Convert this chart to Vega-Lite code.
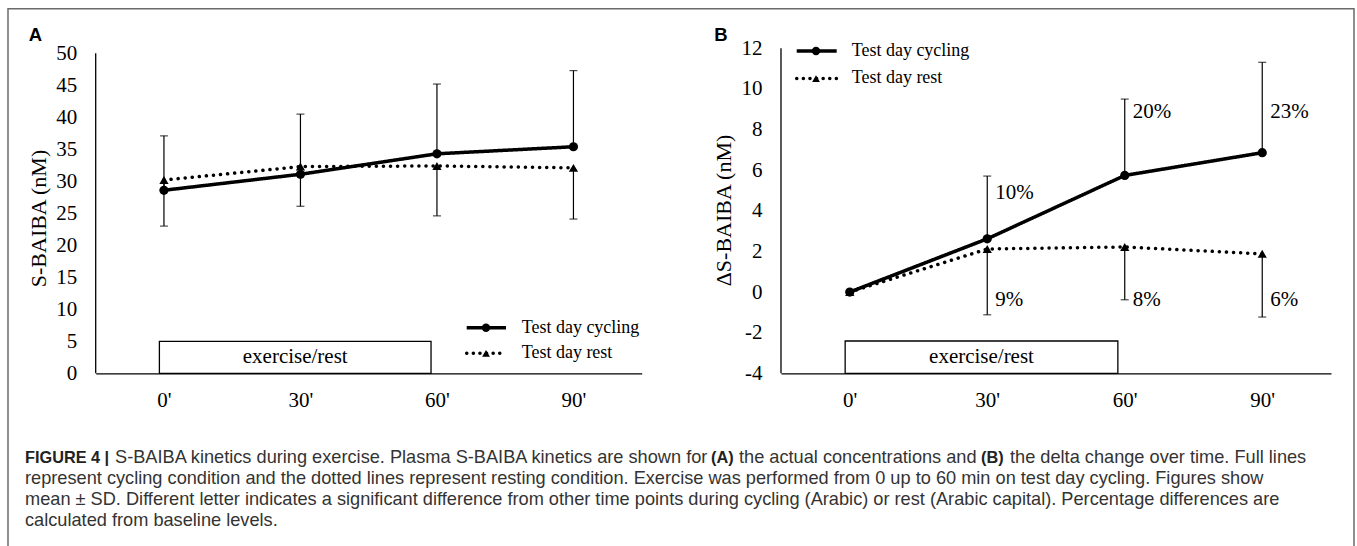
{
"$schema": "https://vega.github.io/schema/vega-lite/v6.json",
"background": "white",
"padding": {"left": 6.7, "top": 7, "right": 0, "bottom": 0},
"bounds": "flush",
"columns": 2,
"spacing": {"row": 66.7, "column": 139.3},
"datasets": {
  "A_main": [
    {"t":0,"series":"Test day cycling","mean":28.6,"sd_end":37.1},
    {"t":30,"series":"Test day cycling","mean":31.1,"sd_end":40.5},
    {"t":60,"series":"Test day cycling","mean":34.3,"sd_end":45.2},
    {"t":90,"series":"Test day cycling","mean":35.4,"sd_end":47.3},
    {"t":0,"series":"Test day rest","mean":30.2,"sd_end":23.0},
    {"t":30,"series":"Test day rest","mean":32.3,"sd_end":26.1},
    {"t":60,"series":"Test day rest","mean":32.4,"sd_end":24.6},
    {"t":90,"series":"Test day rest","mean":32.1,"sd_end":24.1}
  ],
  "B_main": [
    {"t":0,"series":"Test day cycling","mean":0,"sd_end":null},
    {"t":30,"series":"Test day cycling","mean":2.62,"sd_end":5.71},
    {"t":60,"series":"Test day cycling","mean":5.74,"sd_end":9.5},
    {"t":90,"series":"Test day cycling","mean":6.86,"sd_end":11.31},
    {"t":0,"series":"Test day rest","mean":0,"sd_end":null},
    {"t":30,"series":"Test day rest","mean":2.12,"sd_end":-1.12},
    {"t":60,"series":"Test day rest","mean":2.22,"sd_end":-0.38},
    {"t":90,"series":"Test day rest","mean":1.88,"sd_end":-1.23}
  ],
  "B_pct": [
    {"t":30,"pct":"10%","at":4.89},
    {"t":60,"pct":"20%","at":8.84},
    {"t":90,"pct":"23%","at":8.86},
    {"t":30,"pct":"9%","at":-0.37},
    {"t":60,"pct":"8%","at":-0.37},
    {"t":90,"pct":"6%","at":-0.37}
  ],
  "caption": [
    {"line":1,"part":"b1","text":"FIGURE 4 |"},
    {"line":1,"part":"n1","text":"S-BAIBA kinetics during exercise. Plasma S-BAIBA kinetics are shown for"},
    {"line":1,"part":"b2","text":"(A)"},
    {"line":1,"part":"n2","text":"the actual concentrations and"},
    {"line":1,"part":"b3","text":"(B)"},
    {"line":1,"part":"n3","text":"the delta change over time. Full lines"},
    {"line":2,"part":"r","text":"represent cycling condition and the dotted lines represent resting condition. Exercise was performed from 0 up to 60 min on test day cycling. Figures show"},
    {"line":3,"part":"r","text":"mean ± SD. Different letter indicates a significant difference from other time points during cycling (Arabic) or rest (Arabic capital). Percentage differences are"},
    {"line":4,"part":"r","text":"calculated from baseline levels."}
  ]
},
"concat": [
  {
    "width": 546, "height": 365.3,
    "layer": [
      {"data":{"values":[{"label":"exercise/rest"}]},"mark":{"type":"rect","fill":"white","stroke":"black","strokeWidth":1.3},"encoding":{"x":{"datum":-1,"type":"quantitative","scale":{"domain":[-15,105],"nice":false,"zero":false}},"x2":{"datum":58.7},"y":{"datum":0,"type":"quantitative","scale":{"domain":[0,57.08],"nice":false,"zero":false}},"y2":{"datum":5}}},
      {"data":{"values":[{"label":"exercise/rest"}]},"mark":{"type":"text","align":"center","baseline":"middle","font":"Liberation Serif","fontSize":21,"color":"black"},"encoding":{"x":{"datum":28.85,"type":"quantitative","scale":{"domain":[-15,105],"nice":false,"zero":false}},"y":{"datum":2.5,"type":"quantitative","scale":{"domain":[0,57.08],"nice":false,"zero":false}},"text":{"field":"label"}}},
      {"data":{"values":[{}]},"mark":{"type":"rule","color":"black","strokeWidth":1.3},"encoding":{"x":{"datum":-15,"type":"quantitative","scale":{"domain":[-15,105],"nice":false,"zero":false}},"y":{"datum":0,"type":"quantitative","scale":{"domain":[0,57.08],"nice":false,"zero":false}},"y2":{"datum":50}}},
      {"data":{"name":"A_main"},"mark":{"type":"rule","color":"black","strokeWidth":1.2},"encoding":{"x":{"field":"t","type":"quantitative","scale":{"domain":[-15,105],"nice":false,"zero":false}},"y":{"field":"mean","type":"quantitative","scale":{"domain":[0,57.08],"nice":false,"zero":false}},"y2":{"field":"sd_end"}}},
      {"data":{"name":"A_main"},"mark":{"type":"tick","orient":"horizontal","color":"black","size":8,"thickness":1.2},"encoding":{"x":{"field":"t","type":"quantitative","scale":{"domain":[-15,105],"nice":false,"zero":false}},"y":{"field":"sd_end","type":"quantitative","scale":{"domain":[0,57.08],"nice":false,"zero":false}}}},
      {"data":{"name":"A_main"},"mark":{"type":"line","color":"black","strokeWidth":3.5,"strokeCap":"round"},"encoding":{
        "x":{"field":"t","type":"quantitative","scale":{"domain":[-15,105],"nice":false,"zero":false},"axis":{"values":[0,30,60,90],"labelExpr":"datum.value + \"'\"","title":null,"domain":true,"labelPadding":16,"labelOverlap":false}},
        "y":{"field":"mean","type":"quantitative","scale":{"domain":[0,57.08],"nice":false,"zero":false},"axis":{"values":[0,5,10,15,20,25,30,35,40,45,50],"tickCount":11,"labelExpr":"'' + datum.value","domain":false,"labelPadding":19,"labelOverlap":false,"labelSeparation":-20,"title":"S-BAIBA (nM)","titleX":-57,"titleY":210,"titleBaseline":"middle"}},
        "strokeDash":{"field":"series","type":"nominal","scale":{"domain":["Test day cycling","Test day rest"],"range":[[1,0],[0.1,7]]},"legend":null}}},
      {"data":{"name":"A_main"},"mark":{"type":"point","filled":true,"color":"black","opacity":1,"size":85},"encoding":{"x":{"field":"t","type":"quantitative","scale":{"domain":[-15,105],"nice":false,"zero":false}},"y":{"field":"mean","type":"quantitative","scale":{"domain":[0,57.08],"nice":false,"zero":false}},"shape":{"field":"series","type":"nominal","scale":{"domain":["Test day cycling","Test day rest"],"range":["circle","triangle-up"]},"legend":null}}},
      {"data":{"values":[{}]},"mark":{"type":"rule","color":"black","strokeWidth":3.5},"encoding":{"x":{"datum":66.54,"type":"quantitative","scale":{"domain":[-15,105],"nice":false,"zero":false}},"x2":{"datum":75.18},"y":{"datum":7.125,"type":"quantitative","scale":{"domain":[0,57.08],"nice":false,"zero":false}}}},
      {"data":{"values":[{}]},"mark":{"type":"rule","color":"black","strokeWidth":3.5,"strokeDash":[0.1,6.5],"strokeCap":"round"},"encoding":{"x":{"datum":66.54,"type":"quantitative","scale":{"domain":[-15,105],"nice":false,"zero":false}},"x2":{"datum":75.18},"y":{"datum":3.125,"type":"quantitative","scale":{"domain":[0,57.08],"nice":false,"zero":false}}}},
      {"data":{"values":[{}]},"mark":{"type":"point","shape":"circle","filled":true,"color":"black","opacity":1,"size":70},"encoding":{"x":{"datum":70.78,"type":"quantitative","scale":{"domain":[-15,105],"nice":false,"zero":false}},"y":{"datum":7.125,"type":"quantitative","scale":{"domain":[0,57.08],"nice":false,"zero":false}}}},
      {"data":{"values":[{}]},"mark":{"type":"point","shape":"triangle-up","filled":true,"color":"black","opacity":1,"size":60},"encoding":{"x":{"datum":70.78,"type":"quantitative","scale":{"domain":[-15,105],"nice":false,"zero":false}},"y":{"datum":3.125,"type":"quantitative","scale":{"domain":[0,57.08],"nice":false,"zero":false}}}},
      {"data":{"values":[{"label":"Test day cycling"}]},"mark":{"type":"text","align":"left","baseline":"middle","font":"Liberation Serif","fontSize":18,"color":"black"},"encoding":{"x":{"datum":78.63,"type":"quantitative","scale":{"domain":[-15,105],"nice":false,"zero":false}},"y":{"datum":7.125,"type":"quantitative","scale":{"domain":[0,57.08],"nice":false,"zero":false}},"text":{"field":"label"}}},
      {"data":{"values":[{"label":"Test day rest"}]},"mark":{"type":"text","align":"left","baseline":"middle","font":"Liberation Serif","fontSize":18,"color":"black"},"encoding":{"x":{"datum":78.63,"type":"quantitative","scale":{"domain":[-15,105],"nice":false,"zero":false}},"y":{"datum":3.125,"type":"quantitative","scale":{"domain":[0,57.08],"nice":false,"zero":false}},"text":{"field":"label"}}},
      {"data":{"values":[{"label":"A"}]},"mark":{"type":"text","align":"center","baseline":"middle","font":"Liberation Sans","fontWeight":"bold","fontSize":18.5,"color":"black"},"encoding":{"x":{"datum":-28.23,"type":"quantitative","scale":{"domain":[-15,105],"nice":false,"zero":false}},"y":{"datum":52.86,"type":"quantitative","scale":{"domain":[0,57.08],"nice":false,"zero":false}},"text":{"field":"label"}}}
    ]
  },
  {
    "width": 550, "height": 365.3,
    "layer": [
      {"data":{"values":[{"label":"exercise/rest"}]},"mark":{"type":"rect","fill":"white","stroke":"black","strokeWidth":1.3},"encoding":{"x":{"datum":-1,"type":"quantitative","scale":{"domain":[-15,105],"nice":false,"zero":false}},"x2":{"datum":58.5},"y":{"datum":-4,"type":"quantitative","scale":{"domain":[-4,13.984],"nice":false,"zero":false}},"y2":{"datum":-2.41}}},
      {"data":{"values":[{"label":"exercise/rest"}]},"mark":{"type":"text","align":"center","baseline":"middle","font":"Liberation Serif","fontSize":21,"color":"black"},"encoding":{"x":{"datum":28.75,"type":"quantitative","scale":{"domain":[-15,105],"nice":false,"zero":false}},"y":{"datum":-3.2,"type":"quantitative","scale":{"domain":[-4,13.984],"nice":false,"zero":false}},"text":{"field":"label"}}},
      {"data":{"values":[{}]},"mark":{"type":"rule","color":"black","strokeWidth":1.3},"encoding":{"x":{"datum":-15,"type":"quantitative","scale":{"domain":[-15,105],"nice":false,"zero":false}},"y":{"datum":-4,"type":"quantitative","scale":{"domain":[-4,13.984],"nice":false,"zero":false}},"y2":{"datum":12}}},
      {"data":{"name":"B_main"},"transform":[{"filter":"isValid(datum.sd_end)"}],"mark":{"type":"rule","color":"black","strokeWidth":1.2},"encoding":{"x":{"field":"t","type":"quantitative","scale":{"domain":[-15,105],"nice":false,"zero":false}},"y":{"field":"mean","type":"quantitative","scale":{"domain":[-4,13.984],"nice":false,"zero":false}},"y2":{"field":"sd_end"}}},
      {"data":{"name":"B_main"},"transform":[{"filter":"isValid(datum.sd_end)"}],"mark":{"type":"tick","orient":"horizontal","color":"black","size":8,"thickness":1.2},"encoding":{"x":{"field":"t","type":"quantitative","scale":{"domain":[-15,105],"nice":false,"zero":false}},"y":{"field":"sd_end","type":"quantitative","scale":{"domain":[-4,13.984],"nice":false,"zero":false}}}},
      {"data":{"name":"B_main"},"mark":{"type":"line","color":"black","strokeWidth":3.5,"strokeCap":"round"},"encoding":{
        "x":{"field":"t","type":"quantitative","scale":{"domain":[-15,105],"nice":false,"zero":false},"axis":{"values":[0,30,60,90],"labelExpr":"datum.value + \"'\"","title":null,"domain":true,"labelPadding":16,"labelOverlap":false}},
        "y":{"field":"mean","type":"quantitative","scale":{"domain":[-4,13.984],"nice":false,"zero":false},"axis":{"values":[-4,-2,0,2,4,6,8,10,12],"labelExpr":"'' + datum.value","domain":false,"labelPadding":19,"labelOverlap":false,"labelSeparation":-20,"title":"ΔS-BAIBA (nM)","titleX":-57.4,"titleY":202,"titleBaseline":"middle"}},
        "strokeDash":{"field":"series","type":"nominal","scale":{"domain":["Test day cycling","Test day rest"],"range":[[1,0],[0.1,7]]},"legend":null}}},
      {"data":{"name":"B_main"},"mark":{"type":"point","filled":true,"color":"black","opacity":1,"size":85},"encoding":{"x":{"field":"t","type":"quantitative","scale":{"domain":[-15,105],"nice":false,"zero":false}},"y":{"field":"mean","type":"quantitative","scale":{"domain":[-4,13.984],"nice":false,"zero":false}},"shape":{"field":"series","type":"nominal","scale":{"domain":["Test day cycling","Test day rest"],"range":["circle","triangle-up"]},"legend":null}}},
      {"data":{"name":"B_pct"},"mark":{"type":"text","align":"left","baseline":"middle","dx":8,"font":"Liberation Serif","fontSize":21,"color":"black"},"encoding":{"x":{"field":"t","type":"quantitative","scale":{"domain":[-15,105],"nice":false,"zero":false}},"y":{"field":"at","type":"quantitative","scale":{"domain":[-4,13.984],"nice":false,"zero":false}},"text":{"field":"pct"}}},
      {"data":{"values":[{}]},"mark":{"type":"rule","color":"black","strokeWidth":3.5},"encoding":{"x":{"datum":-11.57,"type":"quantitative","scale":{"domain":[-15,105],"nice":false,"zero":false}},"x2":{"datum":-2.85},"y":{"datum":11.87,"type":"quantitative","scale":{"domain":[-4,13.984],"nice":false,"zero":false}}}},
      {"data":{"values":[{}]},"mark":{"type":"rule","color":"black","strokeWidth":3.5,"strokeDash":[0.1,6.5],"strokeCap":"round"},"encoding":{"x":{"datum":-11.57,"type":"quantitative","scale":{"domain":[-15,105],"nice":false,"zero":false}},"x2":{"datum":-2.85},"y":{"datum":10.51,"type":"quantitative","scale":{"domain":[-4,13.984],"nice":false,"zero":false}}}},
      {"data":{"values":[{}]},"mark":{"type":"point","shape":"circle","filled":true,"color":"black","opacity":1,"size":70},"encoding":{"x":{"datum":-7.36,"type":"quantitative","scale":{"domain":[-15,105],"nice":false,"zero":false}},"y":{"datum":11.87,"type":"quantitative","scale":{"domain":[-4,13.984],"nice":false,"zero":false}}}},
      {"data":{"values":[{}]},"mark":{"type":"point","shape":"triangle-up","filled":true,"color":"black","opacity":1,"size":60},"encoding":{"x":{"datum":-7.36,"type":"quantitative","scale":{"domain":[-15,105],"nice":false,"zero":false}},"y":{"datum":10.51,"type":"quantitative","scale":{"domain":[-4,13.984],"nice":false,"zero":false}}}},
      {"data":{"values":[{"label":"Test day cycling"}]},"mark":{"type":"text","align":"left","baseline":"middle","font":"Liberation Serif","fontSize":18,"color":"black"},"encoding":{"x":{"datum":0.43,"type":"quantitative","scale":{"domain":[-15,105],"nice":false,"zero":false}},"y":{"datum":11.87,"type":"quantitative","scale":{"domain":[-4,13.984],"nice":false,"zero":false}},"text":{"field":"label"}}},
      {"data":{"values":[{"label":"Test day rest"}]},"mark":{"type":"text","align":"left","baseline":"middle","font":"Liberation Serif","fontSize":18,"color":"black"},"encoding":{"x":{"datum":0.43,"type":"quantitative","scale":{"domain":[-15,105],"nice":false,"zero":false}},"y":{"datum":10.55,"type":"quantitative","scale":{"domain":[-4,13.984],"nice":false,"zero":false}},"text":{"field":"label"}}},
      {"data":{"values":[{"label":"B"}]},"mark":{"type":"text","align":"center","baseline":"middle","font":"Liberation Sans","fontWeight":"bold","fontSize":18.5,"color":"black"},"encoding":{"x":{"datum":-28.13,"type":"quantitative","scale":{"domain":[-15,105],"nice":false,"zero":false}},"y":{"datum":12.65,"type":"quantitative","scale":{"domain":[-4,13.984],"nice":false,"zero":false}},"text":{"field":"label"}}}
    ]
  },
  {
    "width": 546, "height": 100,
    "data": {"name": "caption"},
    "layer": [
      {"data":{"values":[{}]},"mark":{"type":"rect","filled":false,"stroke":"#6b6b6b","strokeWidth":1.5},"encoding":{"x":{"datum":-87.7,"type":"quantitative","scale":{"domain":[0,546],"nice":false,"zero":false},"axis":null},"x2":{"datum":1258.3},"y":{"datum":-20.2796,"type":"quantitative","scale":{"domain":[0.1943,4.9336],"reverse":true,"nice":false,"zero":false},"axis":null},"y2":{"datum":5.5498}}},
      {"transform":[{"filter":"datum.part == 'b1'"}],"mark":{"type":"text","align":"left","baseline":"middle","font":"Liberation Sans","fontWeight":"bold","fontSize":16.3,"color":"#222"},"encoding":{"x":{"datum":-70.7,"type":"quantitative","scale":{"domain":[0,546],"nice":false,"zero":false},"axis":null},"y":{"field":"line","type":"quantitative","scale":{"domain":[0.1943,4.9336],"reverse":true,"nice":false,"zero":false},"axis":null},"text":{"field":"text"}}},
      {"transform":[{"filter":"datum.part == 'n1'"}],"mark":{"type":"text","align":"left","baseline":"middle","font":"Liberation Sans","fontSize":18.2,"color":"#333"},"encoding":{"x":{"datum":19.3,"type":"quantitative","scale":{"domain":[0,546],"nice":false,"zero":false},"axis":null},"y":{"field":"line","type":"quantitative","scale":{"domain":[0.1943,4.9336],"reverse":true,"nice":false,"zero":false},"axis":null},"text":{"field":"text"}}},
      {"transform":[{"filter":"datum.part == 'b2'"}],"mark":{"type":"text","align":"left","baseline":"middle","font":"Liberation Sans","fontWeight":"bold","fontSize":16.3,"color":"#222"},"encoding":{"x":{"datum":615.3,"type":"quantitative","scale":{"domain":[0,546],"nice":false,"zero":false},"axis":null},"y":{"field":"line","type":"quantitative","scale":{"domain":[0.1943,4.9336],"reverse":true,"nice":false,"zero":false},"axis":null},"text":{"field":"text"}}},
      {"transform":[{"filter":"datum.part == 'n2'"}],"mark":{"type":"text","align":"left","baseline":"middle","font":"Liberation Sans","fontSize":18.2,"color":"#333"},"encoding":{"x":{"datum":643.3,"type":"quantitative","scale":{"domain":[0,546],"nice":false,"zero":false},"axis":null},"y":{"field":"line","type":"quantitative","scale":{"domain":[0.1943,4.9336],"reverse":true,"nice":false,"zero":false},"axis":null},"text":{"field":"text"}}},
      {"transform":[{"filter":"datum.part == 'b3'"}],"mark":{"type":"text","align":"left","baseline":"middle","font":"Liberation Sans","fontWeight":"bold","fontSize":16.3,"color":"#222"},"encoding":{"x":{"datum":885.3,"type":"quantitative","scale":{"domain":[0,546],"nice":false,"zero":false},"axis":null},"y":{"field":"line","type":"quantitative","scale":{"domain":[0.1943,4.9336],"reverse":true,"nice":false,"zero":false},"axis":null},"text":{"field":"text"}}},
      {"transform":[{"filter":"datum.part == 'n3'"}],"mark":{"type":"text","align":"left","baseline":"middle","font":"Liberation Sans","fontSize":18.2,"color":"#333"},"encoding":{"x":{"datum":914.3,"type":"quantitative","scale":{"domain":[0,546],"nice":false,"zero":false},"axis":null},"y":{"field":"line","type":"quantitative","scale":{"domain":[0.1943,4.9336],"reverse":true,"nice":false,"zero":false},"axis":null},"text":{"field":"text"}}},
      {"transform":[{"filter":"datum.part == 'r'"}],"mark":{"type":"text","align":"left","baseline":"middle","font":"Liberation Sans","fontSize":18.2,"color":"#333"},"encoding":{"x":{"datum":-70.7,"type":"quantitative","scale":{"domain":[0,546],"nice":false,"zero":false},"axis":null},"y":{"field":"line","type":"quantitative","scale":{"domain":[0.1943,4.9336],"reverse":true,"nice":false,"zero":false},"axis":null},"text":{"field":"text"}}}
    ]
  }
],
"config": {
  "view": {"stroke": null},
  "axis": {"grid": false, "ticks": false, "tickSize": 0, "labelFont": "Liberation Serif", "labelFontSize": 21, "labelColor": "black", "titleFont": "Liberation Serif", "titleFontSize": 22, "titleFontWeight": "normal", "titleColor": "black", "domainColor": "black", "domainWidth": 1.3, "labelOverlap": false, "labelFlush": false}
}
}
